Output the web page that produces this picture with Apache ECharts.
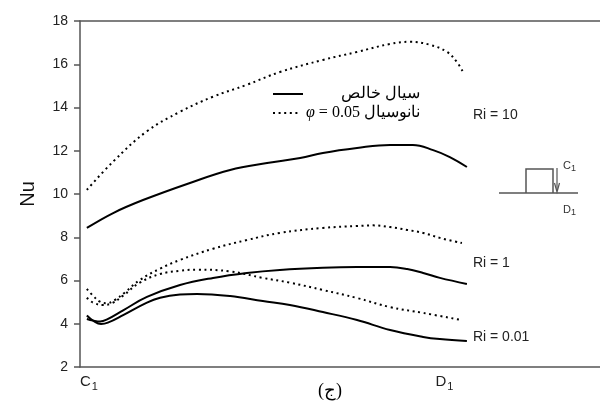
<!DOCTYPE html>
<html>
<head>
<meta charset="utf-8">
<script src="https://cdn.jsdelivr.net/npm/echarts@6/dist/echarts.min.js"></script>
<style>html,body{margin:0;padding:0;background:#fff}#c{width:600px;height:405px}</style>
</head>
<body>
<div id="c"></div>
<script>
// position along the wall: 0 = C1, 1 = D1
const xTickValues = [0, 1];
const xTickNames = ['C', 'D'];
const yTicks = [2, 18, 2]; // min, max, interval

const seriesNames = ['سيال خالص', 'نانوسيال'];

const baseRi10 = [[-0.006,8.43],[0.068,9.12],[0.152,9.72],[0.284,10.51],[0.397,11.11],[0.501,11.43],[0.594,11.66],[0.658,11.9],[0.754,12.13],[0.847,12.27],[0.911,12.27],[0.968,12.03],[1.015,11.71],[1.063,11.25]];
const nanoRi10 = [[-0.006,10.19],[0.068,11.5],[0.163,12.9],[0.256,13.8],[0.349,14.5],[0.444,15.05],[0.537,15.64],[0.658,16.2],[0.754,16.57],[0.847,16.94],[0.903,17.04],[0.959,16.9],[1.007,16.57],[1.035,16.1],[1.052,15.64]];
const baseRi1 = [[-0.006,4.22],[0.011,4.15],[0.031,4.1],[0.051,4.2],[0.096,4.62],[0.163,5.24],[0.256,5.79],[0.349,6.12],[0.444,6.35],[0.537,6.49],[0.658,6.59],[0.754,6.62],[0.847,6.62],[0.895,6.53],[0.94,6.35],[0.987,6.12],[1.063,5.84]];
const nanoRi1 = [[-0.006,5.61],[0.011,5.3],[0.031,5.02],[0.051,4.95],[0.073,5.1],[0.101,5.45],[0.143,6.02],[0.2,6.55],[0.256,6.95],[0.349,7.47],[0.444,7.87],[0.537,8.2],[0.658,8.43],[0.754,8.52],[0.799,8.55],[0.847,8.47],[0.895,8.34],[0.94,8.2],[0.987,7.97],[1.049,7.73]];
const baseRi001 = [[-0.006,4.38],[0.011,4.15],[0.034,3.99],[0.053,4.05],[0.096,4.4],[0.163,4.98],[0.2,5.2],[0.256,5.35],[0.304,5.38],[0.397,5.28],[0.489,5.05],[0.565,4.87],[0.658,4.54],[0.754,4.17],[0.847,3.71],[0.94,3.39],[0.987,3.29],[1.063,3.2]];
const nanoRi001 = [[-0.006,5.2],[0.011,4.98],[0.039,4.87],[0.065,4.95],[0.096,5.3],[0.143,5.9],[0.2,6.3],[0.256,6.45],[0.304,6.5],[0.397,6.42],[0.489,6.12],[0.565,5.9],[0.658,5.56],[0.754,5.19],[0.847,4.77],[0.94,4.5],[1.049,4.17]];

const riLabels = ['Ri = 10', 'Ri = 1', 'Ri = 0.01'];
const riLabelPos = [[1.08,13.65],[1.08,6.81],[1.08,3.39]];

const axisColor = '#555';
const sans = 'Liberation Sans, Arial, sans-serif';
const serif = 'Liberation Serif, Times New Roman, DejaVu Serif, serif';

function solid(data, label, pos) {
  const s = {
    type: 'line', name: seriesNames[0], data: data, symbol: 'none', smooth: 0.4,
    lineStyle: { color: '#000', width: 2 }, itemStyle: { color: '#000' }, z: 3
  };
  if (label) {
    s.markPoint = {
      symbol: 'circle', symbolSize: 0, silent: true,
      data: [{ coord: pos, value: label }],
      label: { show: true, position: 'right', distance: 0, formatter: label, color: '#222', fontFamily: sans, fontSize: 14 }
    };
  }
  return s;
}
function dotted(data) {
  return {
    type: 'line', name: seriesNames[1], data: data, symbol: 'none', smooth: 0.4,
    lineStyle: { color: '#000', width: 2, type: [2, 3.6], cap: 'butt' }, itemStyle: { color: '#000' }, z: 3
  };
}

const xMin = -0.0253, xMax = 1.4374;
const hiddenSymbol = { color: 'rgba(0,0,0,0)', borderWidth: 0, opacity: 0 };

const chart = echarts.init(document.getElementById('c'), null, { renderer: 'canvas' });
chart.setOption({
  animation: false,
  backgroundColor: '#fff',
  grid: { left: 80, right: 0, top: 21, bottom: 38, containLabel: false },
  legend: [
    {
      data: [seriesNames[0]], left: 267, top: 81, orient: 'vertical',
      itemWidth: 30, itemHeight: 14, selectedMode: false, itemStyle: hiddenSymbol,
      textStyle: { fontFamily: serif, fontSize: 16, color: '#000', padding: [0, 0, 0, 33] }
    },
    {
      data: [seriesNames[1]], left: 267, top: 100, orient: 'vertical',
      itemWidth: 28, itemHeight: 14, selectedMode: false, itemStyle: hiddenSymbol,
      formatter: function () { return '{p|φ}{n| = 0.05 }{a|' + seriesNames[1] + '}'; },
      textStyle: {
        fontFamily: serif, fontSize: 16, color: '#000',
        rich: {
          p: { fontFamily: serif, fontStyle: 'italic', fontSize: 16, color: '#000' },
          n: { fontFamily: serif, fontSize: 16, color: '#000' },
          a: { fontFamily: serif, fontSize: 16, color: '#000' }
        }
      }
    }
  ],
  xAxis: [
    {
      type: 'value', min: xMin, max: xMax, position: 'bottom',
      axisLine: { show: true, onZero: false, lineStyle: { color: axisColor, width: 1.5 } },
      axisTick: { show: false },
      splitLine: { show: false },
      axisLabel: {
        show: true, customValues: xTickValues, margin: 5,
        formatter: function (v) {
          const i = xTickValues.indexOf(v);
          return '{c|' + xTickNames[i] + '}{s|1}';
        },
        rich: {
          c: { fontFamily: sans, fontSize: 15, color: '#222' },
          s: { fontFamily: sans, fontSize: 11, color: '#222', padding: [9, 0, 0, 1] }
        }
      }
    },
    {
      type: 'value', min: xMin, max: xMax, position: 'top',
      axisLine: { show: true, onZero: false, lineStyle: { color: axisColor, width: 1.5 } },
      axisTick: { show: false }, axisLabel: { show: false }, splitLine: { show: false }
    }
  ],
  yAxis: {
    type: 'value', min: yTicks[0], max: yTicks[1], interval: yTicks[2],
    name: 'Nu', nameLocation: 'middle', nameGap: 42,
    nameTextStyle: { fontFamily: sans, fontSize: 20, color: '#111' },
    axisLine: { show: true, onZero: false, lineStyle: { color: axisColor, width: 1.5 } },
    axisTick: { show: true, inside: false, length: 6, lineStyle: { color: axisColor, width: 1.5 } },
    splitLine: { show: false },
    axisLabel: { fontFamily: sans, fontSize: 14, color: '#222', margin: 12 }
  },
  series: [
    solid(baseRi10, riLabels[0], riLabelPos[0]),
    dotted(nanoRi10),
    solid(baseRi1, riLabels[1], riLabelPos[1]),
    dotted(nanoRi1),
    solid(baseRi001, riLabels[2], riLabelPos[2]),
    dotted(nanoRi001)
  ],
  graphic: [
    { type: 'line', shape: { x1: 499, y1: 193, x2: 578, y2: 193 }, style: { stroke: axisColor, lineWidth: 1.5 } },
    { type: 'polyline', shape: { points: [[526, 193], [526, 169], [553, 169], [553, 193]] }, style: { stroke: axisColor, lineWidth: 1.5, fill: null } },
    { type: 'line', shape: { x1: 557, y1: 168, x2: 557, y2: 191 }, style: { stroke: axisColor, lineWidth: 1.2 } },
    { type: 'polyline', shape: { points: [[554.5, 183], [557, 192], [559.5, 183]] }, style: { stroke: axisColor, lineWidth: 1.2, fill: null } },
    { type: 'text', x: 563, y: 166, style: { text: '{c|C}{s|1}', rich: { c: { fontFamily: sans, fontSize: 11, fill: '#333' }, s: { fontFamily: sans, fontSize: 9, fill: '#333', padding: [6, 0, 0, 0] } }, textVerticalAlign: 'middle' } },
    { type: 'text', x: 563, y: 210, style: { text: '{c|D}{s|1}', rich: { c: { fontFamily: sans, fontSize: 11, fill: '#333' }, s: { fontFamily: sans, fontSize: 9, fill: '#333', padding: [6, 0, 0, 0] } }, textVerticalAlign: 'middle' } },
    { type: 'text', x: 330, y: 391, style: { text: '(ج)', fontFamily: serif, fontSize: 18, fill: '#000', textAlign: 'center', textVerticalAlign: 'middle' } }
  ]
});
</script>
</body>
</html>
